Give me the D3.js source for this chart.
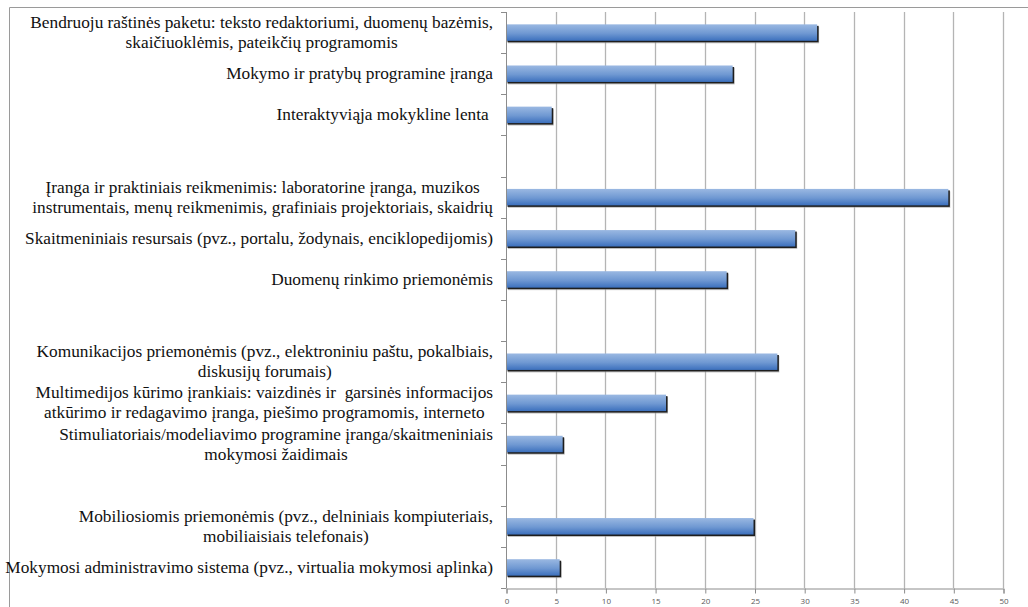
<!DOCTYPE html>
<html>
<head>
<meta charset="utf-8">
<script src="https://cdn.jsdelivr.net/npm/d3@7"></script>
<style>
  html, body { margin: 0; padding: 0; background: #ffffff; }
  svg { display: block; }
</style>
</head>
<body>
<svg id="chart" width="1028" height="607"></svg>
<script>
// Category labels, top to bottom (each entry = lines of the label; empty = spacer row)
const categoryLabels = [
  ["Bendruoju raštinės paketu: teksto redaktoriumi, duomenų bazėmis,", "skaičiuoklėmis, pateikčių programomis"],
  ["Mokymo ir pratybų programine įranga"],
  ["Interaktyviąja mokykline lenta "],
  [],
  ["Įranga ir praktiniais reikmenimis: laboratorine įranga, muzikos", "instrumentais, menų reikmenimis, grafiniais projektoriais, skaidrių"],
  ["Skaitmeniniais resursais (pvz., portalu, žodynais, enciklopedijomis)"],
  ["Duomenų rinkimo priemonėmis"],
  [],
  ["Komunikacijos priemonėmis (pvz., elektroniniu paštu, pokalbiais,", "diskusijų forumais)"],
  ["Multimedijos kūrimo įrankiais: vaizdinės ir  garsinės informacijos", "atkūrimo ir redagavimo įranga, piešimo programomis, interneto"],
  ["Stimuliatoriais/modeliavimo programine įranga/skaitmeniniais", "mokymosi žaidimais"],
  [],
  ["Mobiliosiomis priemonėmis (pvz., delniniais kompiuteriais,", "mobiliaisiais telefonais)"],
  ["Mokymosi administravimo sistema (pvz., virtualia mokymosi aplinka)"]
];

// Bar values, same order as the labels (null = no bar)
const values = [31.3, 22.8, 4.6, null, 44.5, 29.1, 22.2, null, 27.3, 16.1, 5.7, null, 24.9, 5.4];

// Value axis ticks
const xTicks = [0, 5, 10, 15, 20, 25, 30, 35, 40, 45, 50];

const serif = "Liberation Serif";
const sans = "Open Sans";

const svg = d3.select("#chart");

const plot = { left: 506, right: 1003, top: 12, bottom: 588 };

const x = d3.scaleLinear().domain([0, 50]).range([plot.left, plot.right]);
const y = d3.scaleBand()
  .domain(d3.range(categoryLabels.length))
  .range([plot.top, plot.bottom])
  .paddingInner(0.6)
  .paddingOuter(0.3);

// Gradient fill for bars
const defs = svg.append("defs");
const grad = defs.append("linearGradient")
  .attr("id", "barFill").attr("x1", 0).attr("y1", 0).attr("x2", 0).attr("y2", 1);
grad.append("stop").attr("offset", "0%").attr("stop-color", "#9ab8e2");
grad.append("stop").attr("offset", "55%").attr("stop-color", "#6f98d2");
grad.append("stop").attr("offset", "100%").attr("stop-color", "#3c70bd");

// Outer chart frame (top and left edges visible)
svg.append("line").attr("x1", 9.5).attr("x2", 1028).attr("y1", 7.5).attr("y2", 7.5)
  .attr("stroke", "#9a9a9a").attr("stroke-width", 1);
svg.append("line").attr("x1", 9.5).attr("x2", 9.5).attr("y1", 7.5).attr("y2", 607)
  .attr("stroke", "#9a9a9a").attr("stroke-width", 1);

// Vertical gridlines
svg.append("g").selectAll("line")
  .data(xTicks.filter(d => d > 0))
  .join("line")
  .attr("x1", d => Math.round(x(d)) + 0.5)
  .attr("x2", d => Math.round(x(d)) + 0.5)
  .attr("y1", plot.top)
  .attr("y2", plot.bottom)
  .attr("stroke", "#b4b4b4")
  .attr("stroke-width", 1.3);

// Bars with a dark drop shadow
const barData = values.map((v, i) => ({ i, v })).filter(d => d.v != null);

svg.append("g").selectAll("rect")
  .data(barData)
  .join("rect")
  .attr("x", x(0) + 2)
  .attr("y", d => y(d.i) + 2.5)
  .attr("width", d => x(d.v) - x(0))
  .attr("height", y.bandwidth())
  .attr("fill", "#9c9c9c")
  .attr("opacity", 0.6);

svg.append("g").selectAll("rect")
  .data(barData)
  .join("rect")
  .attr("x", x(0) + 1.5)
  .attr("y", d => y(d.i) + 1.5)
  .attr("width", d => x(d.v) - x(0))
  .attr("height", y.bandwidth())
  .attr("fill", "#1e1e1e");

svg.append("g").selectAll("rect")
  .data(barData)
  .join("rect")
  .attr("x", x(0))
  .attr("y", d => y(d.i))
  .attr("width", d => x(d.v) - x(0))
  .attr("height", y.bandwidth())
  .attr("fill", "url(#barFill)");

// Category axis line with ticks at category boundaries
const boundaries = d3.range(categoryLabels.length + 1).map(i => plot.top + i * y.step());
const catAxis = svg.append("g").attr("stroke", "#8c8c8c").attr("stroke-width", 1);
catAxis.append("line")
  .attr("x1", x(0) + 0.5).attr("x2", x(0) + 0.5)
  .attr("y1", plot.top).attr("y2", plot.bottom);
catAxis.selectAll("line.tick")
  .data(boundaries)
  .join("line")
  .attr("class", "tick")
  .attr("x1", x(0) - 5).attr("x2", x(0) + 0.5)
  .attr("y1", d => Math.round(d) + 0.5).attr("y2", d => Math.round(d) + 0.5);

// Value axis
const xAxis = d3.axisBottom(x).tickValues(xTicks).tickSize(5).tickPadding(5);
const xg = svg.append("g")
  .attr("transform", `translate(0.5,${plot.bottom + 0.5})`)
  .call(xAxis)
  .attr("font-family", sans)
  .attr("font-size", 8);
xg.select(".domain").attr("stroke", "#8c8c8c");
xg.selectAll(".tick line").attr("stroke", "#8c8c8c");
xg.selectAll(".tick text").attr("fill", "#595959");

// Category labels: block right-aligned to the axis, lines centred within the block
const labelRight = 493;
const lineHeight = 20;
const labelGroup = svg.append("g").attr("fill", "#111");
categoryLabels.forEach((lines, i) => {
  if (!lines.length) return;
  const cy = y(i) + y.bandwidth() / 2;
  const texts = lines.map((ln, k) =>
    labelGroup.append("text")
      .style("font-family", serif)
      .style("font-size", "17.3px")
      .style("white-space", "pre")
      .attr("text-anchor", "middle")
      .attr("dominant-baseline", "central")
      .attr("y", cy + (k - (lines.length - 1) / 2) * lineHeight)
      .text(ln)
  );
  const maxW = d3.max(texts, t => t.node().getComputedTextLength());
  texts.forEach(t => t.attr("x", labelRight - maxW / 2));
});
</script>
</body>
</html>
